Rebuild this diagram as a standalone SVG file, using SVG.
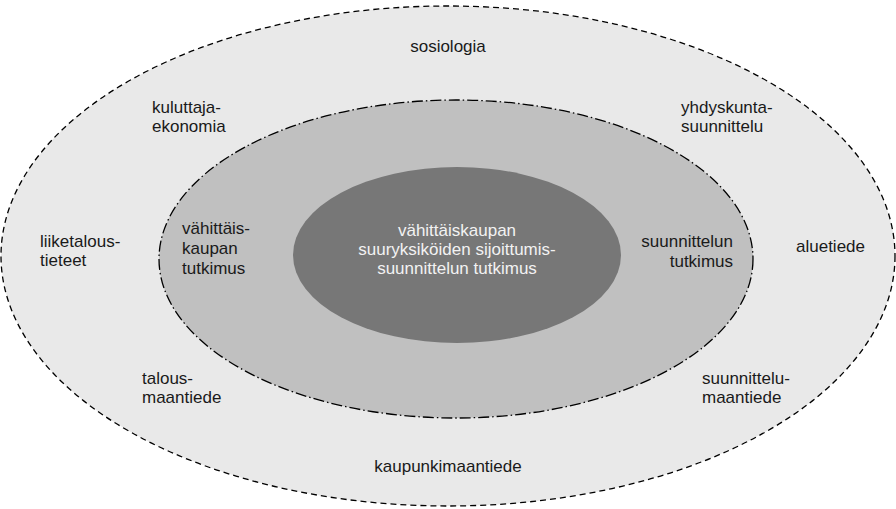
<svg xmlns="http://www.w3.org/2000/svg" width="896" height="509" viewBox="0 0 896 509">
<style>
text{font-family:"Liberation Sans",Arial,sans-serif;font-size:17px;fill:#1a1a1a}
.c{text-anchor:middle}
.e{text-anchor:end}
.w{fill:#f2f2f2}
</style>
<rect width="896" height="509" fill="#ffffff"/>
<g id="outer">
<ellipse cx="448" cy="256" rx="447" ry="250" fill="#e9e9e9" stroke="#000" stroke-width="1.3" stroke-dasharray="6 4"/>
</g>
<g id="middle">
<ellipse cx="456" cy="259" rx="297" ry="159" fill="#c0c0c0" stroke="#000" stroke-width="1.3" stroke-dasharray="11 3 1.5 3"/>
</g>
<g id="inner">
<ellipse cx="457" cy="255" rx="164" ry="88" fill="#777777"/>
<text class="c w" x="457" y="236">vähittäiskaupan</text>
<text class="c w" x="457" y="255">suuryksiköiden sijoittumis-</text>
<text class="c w" x="457" y="274">suunnittelun tutkimus</text>
</g>
<g id="labels-middle">
<g id="vahittaiskaupan-tutkimus">
<text x="182" y="234">vähittäis-</text>
<text x="182" y="254">kaupan</text>
<text x="182" y="274">tutkimus</text>
</g>
<g id="suunnittelun-tutkimus">
<text class="e" x="733" y="247">suunnittelun</text>
<text class="e" x="733" y="267">tutkimus</text>
</g>
</g>
<g id="labels-outer">
<g id="sosiologia"><text class="c" x="448" y="52">sosiologia</text></g>
<g id="kuluttajaekonomia">
<text x="152" y="113">kuluttaja-</text>
<text x="152" y="132">ekonomia</text>
</g>
<g id="yhdyskuntasuunnittelu">
<text x="681" y="113">yhdyskunta-</text>
<text x="681" y="132">suunnittelu</text>
</g>
<g id="liiketaloustieteet">
<text x="40" y="247">liiketalous-</text>
<text x="40" y="266">tieteet</text>
</g>
<g id="aluetiede"><text x="796" y="252">aluetiede</text></g>
<g id="talousmaantiede">
<text x="142" y="384">talous-</text>
<text x="142" y="403">maantiede</text>
</g>
<g id="suunnittelumaantiede">
<text x="702" y="384">suunnittelu-</text>
<text x="702" y="403">maantiede</text>
</g>
<g id="kaupunkimaantiede"><text class="c" x="448" y="472">kaupunkimaantiede</text></g>
</g>
</svg>
